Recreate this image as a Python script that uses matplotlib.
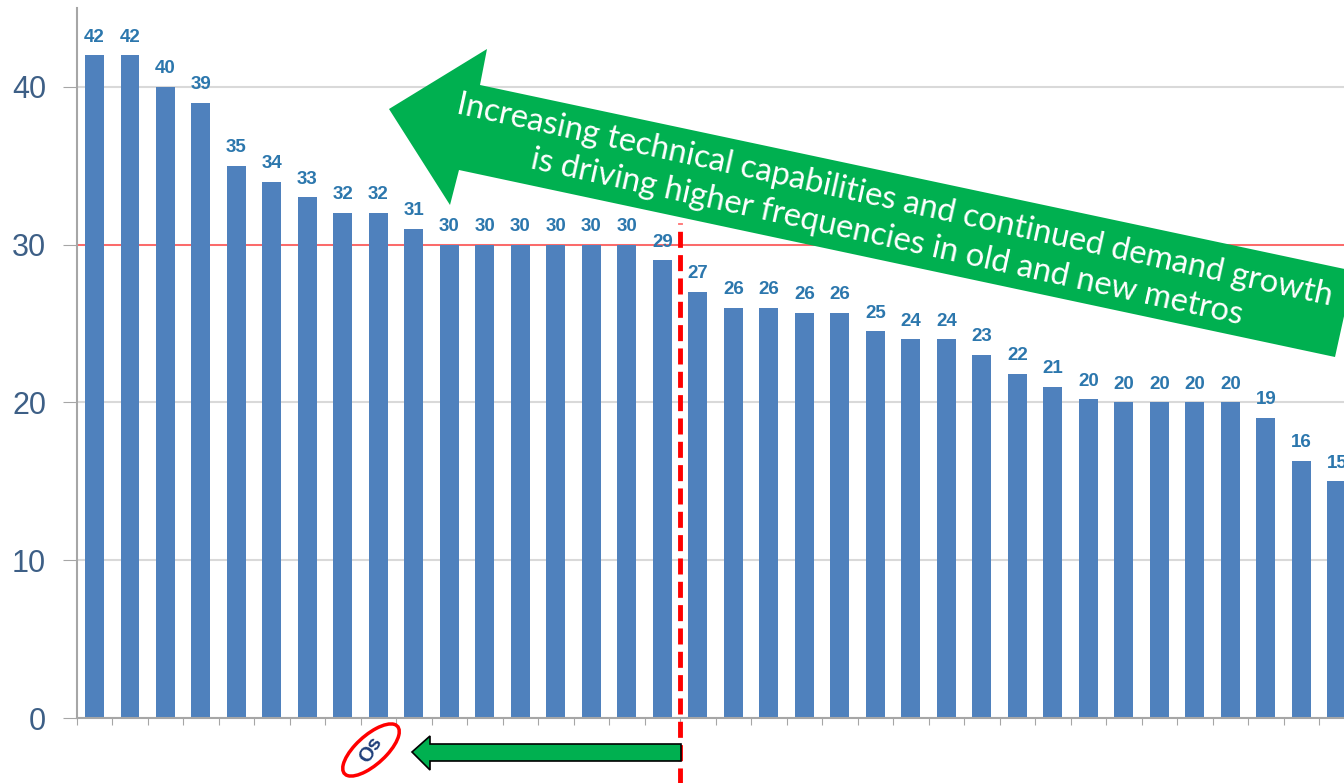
import matplotlib
matplotlib.use("Agg")
import matplotlib.pyplot as plt
from matplotlib.patches import Polygon, Ellipse

heights = [42, 42, 40, 39, 35, 34, 33, 32, 32, 31,
           30, 30, 30, 30, 30, 30, 29, 27, 26, 26,
           25.7, 25.7, 24.5, 24, 24, 23, 21.8, 21, 20.2, 20,
           20, 20, 20, 19, 16.3, 15]
labels = ["42", "42", "40", "39", "35", "34", "33", "32", "32", "31",
          "30", "30", "30", "30", "30", "30", "29", "27", "26", "26",
          "26", "26", "25", "24", "24", "23", "22", "21", "20", "20",
          "20", "20", "20", "19", "16", "15"]
yticks = [0, 10, 20, 30, 40]
threshold = 30
split_at = 16.5

arrow_text = ("Increasing technical capabilities and continued demand growth\n"
              "is driving higher frequencies in old and new metros")

W, H = 1344, 783
fig = plt.figure(figsize=(W / 100, H / 100), dpi=100)
ax = fig.add_axes([76.75 / W, 65 / H, (W - 76.75) / W, 710 / H])

def px(x, y):
    # picture pixels (origin top left) -> figure fraction
    return (x / W, 1 - y / H)

x = list(range(len(heights)))
ax.bar(x, heights, width=0.535, color="#4f81bd", zorder=2)
for xi, h, lab in zip(x, heights, labels):
    ax.annotate(lab, (xi, h), xytext=(0, 7), textcoords="offset points",
                ha="center", va="bottom", fontsize=13.5, fontweight="bold",
                color="#2c77ad", family="Liberation Sans", zorder=4)

ax.set_yticks(yticks)
ax.set_yticklabels([str(t) for t in yticks], fontsize=22,
                   color="#3d5f86", family="Liberation Sans")
ax.set_xticks([i - 0.5 for i in range(37)])
ax.set_xticklabels([])
ax.set_xlim(-0.5, 35.2)
ax.set_ylim(0, 45)
ax.tick_params(axis="y", length=10, color="#a6a6a6", pad=12)
ax.tick_params(axis="x", length=5, color="#a6a6a6")
ax.grid(axis="y", color="#d9d9d9", linewidth=1.5, zorder=0)
ax.set_axisbelow(True)
for s in ["top", "right"]:
    ax.spines[s].set_visible(False)
for s in ["left", "bottom"]:
    ax.spines[s].set_color("#a6a6a6")
    ax.spines[s].set_linewidth(1.5)

ax.axhline(threshold, color="#ff6060", linewidth=1.3, zorder=1)
ax.plot([split_at, split_at], [-4.3, 31.4], color="red", linewidth=3.5,
        linestyle=(0, (3.3, 1.5)), clip_on=False, zorder=5)

# big slanted green arrow with the message
big = [px(389, 109), px(487, 49), px(480, 85), px(1354, 271),
       px(1335, 357), px(459, 170), px(450, 205)]
fig.patches.append(Polygon(big, closed=True, transform=fig.transFigure,
                           facecolor="#00b050", edgecolor="none", zorder=6))
fig.text(*px(891, 219), arrow_text, rotation=-12.4, rotation_mode="anchor",
         ha="center", va="center", multialignment="center",
         fontsize=23.5, color="white", family="Lato", linespacing=1.35, zorder=7)

# small arrow under the axis
small = [px(681, 744), px(430, 744), px(430, 736), px(412, 752),
         px(430, 770), px(430, 761), px(681, 761)]
fig.patches.append(Polygon(small, closed=True, transform=fig.transFigure,
                           facecolor="#00b050", edgecolor="black",
                           linewidth=1.2, zorder=6))

# circled "Os"
fig.patches.append(Ellipse(px(371, 750), 36 / W, 58 / H, angle=-28,
                           transform=fig.transFigure, facecolor="none",
                           edgecolor="red", linewidth=2.5, zorder=6))
fig.text(*px(371, 750), "Os", rotation=58, ha="center", va="center",
         fontsize=14.5, fontweight="bold", color="#1f3f7a",
         family="Liberation Sans", zorder=7)

fig.savefig("out.png", dpi=100)
